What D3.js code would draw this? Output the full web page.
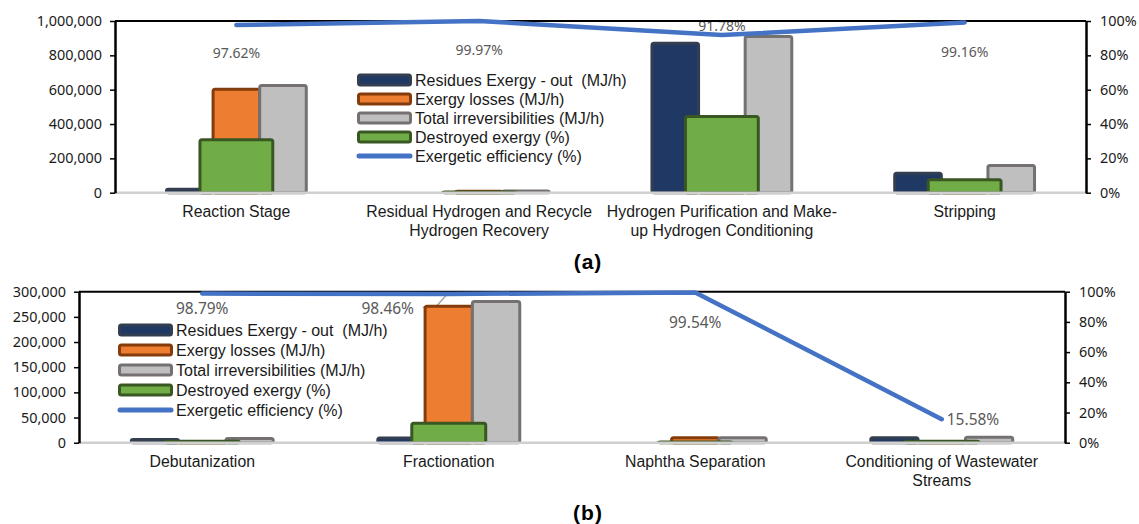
<!DOCTYPE html>
<html>
<head>
<meta charset="utf-8">
<script src="https://cdn.jsdelivr.net/npm/d3@7"></script>
<style>
  html, body { margin: 0; padding: 0; background: #fff; }
  svg { display: block; }
</style>
</head>
<body>
<svg id="chart" width="1139" height="524"></svg>
<script>
// ---------------- DATA ----------------
const seriesNames = ["Residues Exergy - out  (MJ/h)", "Exergy losses (MJ/h)", "Total irreversibilities (MJ/h)", "Destroyed exergy (%)", "Exergetic efficiency (%)"];

// (a)
const categoriesA = [["Reaction Stage"], ["Residual Hydrogen and Recycle", "Hydrogen Recovery"], ["Hydrogen Purification and Make-", "up Hydrogen Conditioning"], ["Stripping"]];
const residuesA   = [20000, 0, 871000, 114000];
const lossesA     = [602000, 9000, 39000, 45000];
const totalIrrA   = [624000, 9500, 910000, 159000];
const destroyedA  = [30.8, 0.4, 44.4, 7.5];
const efficiencyA = [97.62, 99.97, 91.78, 99.16];
const leftTicksA  = [0, 200000, 400000, 600000, 800000, 1000000];

// (b)
const categoriesB = [["Debutanization"], ["Fractionation"], ["Naphtha Separation"], ["Conditioning of Wastewater", "Streams"]];
const residuesB   = [6500, 9500, 0, 10000];
const lossesB     = [2000, 271000, 9700, 1000];
const totalIrrB   = [8500, 280500, 10000, 11000];
const destroyedB  = [1.0, 12.9, 0.5, 1.0];
const efficiencyB = [98.79, 98.46, 99.54, 15.58];
const leftTicksB  = [0, 50000, 100000, 150000, 200000, 250000, 300000];

const rightTicks  = [0, 20, 40, 60, 80, 100];

// ---------------- STYLE ----------------
const barStyles = [
  { fill: "#203864", stroke: "#333F50" },
  { fill: "#ED7D31", stroke: "#843C0C" },
  { fill: "#BFBFBF", stroke: "#767171" },
  { fill: "#70AD47", stroke: "#385723" }
];
const lineColor = "#4472C4";
const tickFont = "'Noto Sans', sans-serif";
const catFont = "'Liberation Sans', Arial, sans-serif";

const svg = d3.select("#chart");

function drawChart(cfg) {
  const g = svg.append("g");
  const cats = cfg.categories.map(c => c.join(" "));
  const x = d3.scaleBand().domain(cats).range([cfg.left, cfg.right]).padding(0);
  const bw = x.bandwidth();
  const y = d3.scaleLinear().domain([0, cfg.leftMax]).range([cfg.bottom, cfg.top]);
  const yr = d3.scaleLinear().domain([0, 100]).range([cfg.bottom, cfg.top]);

  const pw = bw * 0.192;     // primary bar width
  const sw = bw * 0.30;      // secondary bar width
  const xs = d3.scaleBand().domain([0, 1, 2]).range([bw / 2 - 1.5 * pw, bw / 2 + 1.5 * pw]).padding(0);

  const primary = [cfg.residues, cfg.losses, cfg.total];

  const lblG = g.append("g");

  primary.forEach((vals, si) => {
    g.append("g").selectAll("rect")
      .data(vals.map((v, i) => ({ v, c: cats[i] })).filter(d => d.v > 0))
      .join("rect")
      .attr("x", d => x(d.c) + xs(si))
      .attr("width", xs.bandwidth())
      .attr("y", d => y(d.v))
      .attr("height", d => cfg.bottom - y(d.v))
      .attr("rx", 2)
      .attr("fill", barStyles[si].fill)
      .attr("stroke", barStyles[si].stroke)
      .attr("stroke-width", 3);
  });

  g.append("g").selectAll("rect")
    .data(cfg.destroyed.map((v, i) => ({ v, c: cats[i] })).filter(d => d.v > 0))
    .join("rect")
    .attr("x", d => x(d.c) + bw / 2 - sw / 2)
    .attr("width", sw)
    .attr("y", d => yr(d.v))
    .attr("height", d => cfg.bottom - yr(d.v))
    .attr("rx", 2)
    .attr("fill", barStyles[3].fill)
    .attr("stroke", barStyles[3].stroke)
    .attr("stroke-width", 3);

  g.append("line")
    .attr("x1", cfg.left).attr("x2", cfg.right)
    .attr("y1", cfg.bottom).attr("y2", cfg.bottom)
    .attr("stroke", "#D0D0D0").attr("stroke-width", 2.5);

  const xAxis = g.append("g")
    .attr("transform", `translate(0,${cfg.bottom})`)
    .call(d3.axisBottom(x).tickSize(0).tickPadding(0));
  xAxis.select(".domain").remove();
  xAxis.selectAll(".tick text").each(function (d, i) {
    const t = d3.select(this);
    t.text(null).attr("y", null).attr("dy", null)
      .attr("font-family", catFont).attr("font-size", "15.8px").attr("fill", "#1a1a1a");
    cfg.categories[i].forEach((line, li) => {
      t.append("tspan").attr("x", 0).attr("y", 19 + li * 18.5).attr("dy", "0.35em").text(line);
    });
  });

  cfg.efficiency.forEach((v, i) => {
    const o = cfg.labelOffsets[i];
    const px = x(cats[i]) + bw / 2, py = yr(v);
    lblG.append("text")
      .attr("x", px + o.dx).attr("y", py + o.dy).attr("dy", "0.35em")
      .attr("text-anchor", o.anchor || "middle")
      .attr("font-family", tickFont).attr("font-size", cfg.labelSize)
      .attr("fill", "#595959")
      .text(d3.format(".2f")(v) + "%");
    if (o.leader) {
      lblG.append("polyline")
        .attr("points", o.leader.map(p => [px + p[0], py + p[1]].join(",")).join(" "))
        .attr("fill", "none").attr("stroke", "#A6A6A6").attr("stroke-width", 1.5);
    }
  });

  g.append("line")
    .attr("x1", cfg.left).attr("x2", cfg.right)
    .attr("y1", cfg.top).attr("y2", cfg.top)
    .attr("stroke", "#000").attr("stroke-width", 2);

  const la = g.append("g").attr("transform", `translate(${cfg.left},0)`)
    .call(d3.axisLeft(y).tickValues(cfg.leftTicks).tickFormat(d3.format(",")).tickSize(5).tickSizeOuter(0).tickPadding(8));
  la.select(".domain").attr("stroke", "#000").attr("stroke-width", 2.5);
  la.selectAll(".tick line").attr("stroke", "#000").attr("stroke-width", 1.5);
  la.selectAll(".tick text").attr("font-family", tickFont).attr("font-size", "14.4px").attr("fill", "#1a1a1a");

  const ra = g.append("g").attr("transform", `translate(${cfg.right},0)`)
    .call(d3.axisRight(yr).tickValues(rightTicks).tickFormat(d => d + "%").tickSize(5).tickSizeOuter(0).tickPadding(9));
  ra.select(".domain").attr("stroke", "#000").attr("stroke-width", 2.5);
  ra.selectAll(".tick line").attr("stroke", "#000").attr("stroke-width", 1.5);
  ra.selectAll(".tick text").attr("font-family", tickFont).attr("font-size", "14.4px").attr("fill", "#1a1a1a");

  const line = d3.line().x((d, i) => x(cats[i]) + bw / 2).y(d => yr(d));
  g.append("path")
    .attr("d", line(cfg.efficiency))
    .attr("fill", "none").attr("stroke", lineColor).attr("stroke-width", 4.5)
    .attr("stroke-linecap", "round").attr("stroke-linejoin", "round");

  const lg = g.append("g");
  seriesNames.forEach((name, i) => {
    const ly = cfg.legend.y + i * cfg.legend.step;
    if (i < 4) {
      lg.append("rect")
        .attr("x", cfg.legend.x + 1.5).attr("y", ly - 5)
        .attr("width", 52).attr("height", 10).attr("rx", 2)
        .attr("fill", barStyles[i].fill).attr("stroke", barStyles[i].stroke).attr("stroke-width", 3);
    } else {
      lg.append("line")
        .attr("x1", cfg.legend.x + 2).attr("x2", cfg.legend.x + 53)
        .attr("y1", ly).attr("y2", ly)
        .attr("stroke", lineColor).attr("stroke-width", 5).attr("stroke-linecap", "round");
    }
    lg.append("text")
      .attr("x", cfg.legend.x + 58).attr("y", ly).attr("dy", "0.35em")
      .attr("font-family", catFont).attr("font-size", "16px").attr("fill", "#1a1a1a")
      .style("white-space", "pre").attr("xml:space", "preserve")
      .text(name);
  });

  svg.append("text")
    .attr("x", cfg.caption.x).attr("y", cfg.caption.y).attr("dy", "0.35em")
    .attr("text-anchor", "middle")
    .attr("font-family", catFont).attr("font-weight", "bold").attr("font-size", "21px")
    .attr("letter-spacing", "1px")
    .attr("fill", "#000")
    .text(cfg.caption.text);
}

drawChart({
  categories: categoriesA, residues: residuesA, losses: lossesA, total: totalIrrA,
  destroyed: destroyedA, efficiency: efficiencyA, leftTicks: leftTicksA, leftMax: 1000000,
  left: 115, right: 1086, top: 21, bottom: 192.7,
  labelSize: "14px",
  labelOffsets: [{ dx: 0, dy: 28 }, { dx: 0, dy: 29 }, { dx: 0, dy: -9 }, { dx: 0, dy: 29.5 }],
  legend: { x: 357, y: 80, step: 19 },
  caption: { x: 588, y: 262, text: "(a)" }
});

drawChart({
  categories: categoriesB, residues: residuesB, losses: lossesB, total: totalIrrB,
  destroyed: destroyedB, efficiency: efficiencyB, leftTicks: leftTicksB, leftMax: 300000,
  left: 79, right: 1065, top: 291.7, bottom: 442.7,
  labelSize: "15.5px",
  labelOffsets: [
    { dx: 0, dy: 15 },
    { dx: -61, dy: 15, leader: [[-26, 13.3], [-13.3, 13.3], [-0.7, -0.7]] },
    { dx: 0, dy: 30 },
    { dx: 5, dy: 0, anchor: "start" }
  ],
  legend: { x: 118, y: 330, step: 20 },
  caption: { x: 588, y: 513, text: "(b)" }
});
</script>
</body>
</html>
